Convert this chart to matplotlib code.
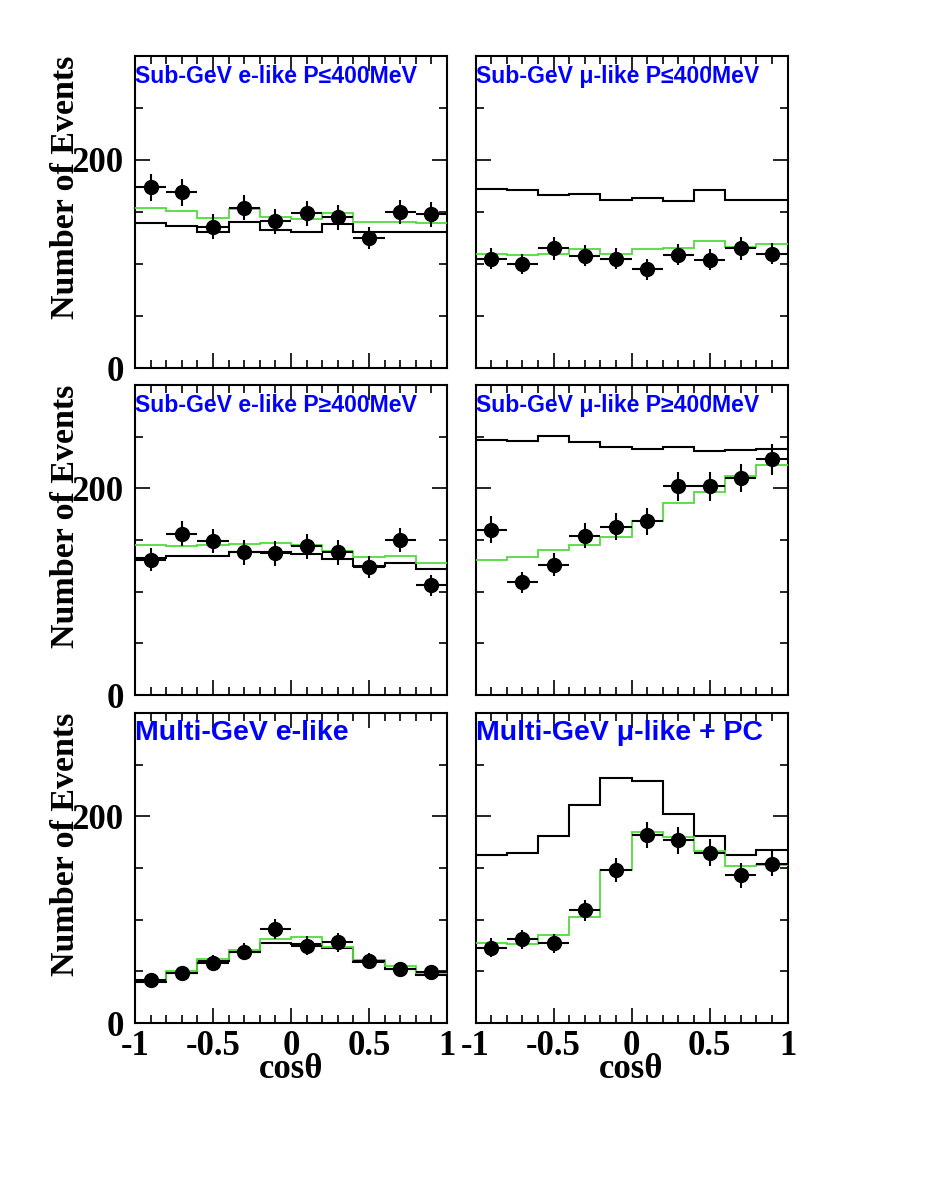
import matplotlib
matplotlib.use("Agg")
import matplotlib.pyplot as plt
from matplotlib.ticker import MultipleLocator, FormatStrFormatter

plt.rcParams['axes.unicode_minus'] = False

# binning in cos(theta)
BIN_EDGES = [-1.0, -0.8, -0.6, -0.4, -0.2, 0.0, 0.2, 0.4, 0.6, 0.8, 1.0]
BIN_CENTERS = [-0.9, -0.7, -0.5, -0.3, -0.1, 0.1, 0.3, 0.5, 0.7, 0.9]
BIN_HALF = [0.1] * 10

# sub-GeV e-like P<=400MeV
sge_lo_data = [174, 169, 136, 154, 141, 149, 145, 125, 150, 148]
sge_lo_err = [13, 13, 12, 12, 12, 12, 12, 11, 12, 12]
sge_lo_noosc = [139, 137, 131, 140, 133, 131, 138, 131, 131, 131]
sge_lo_osc = [154, 151, 144, 153, 145, 143, 149, 140, 140, 139]

# sub-GeV mu-like P<=400MeV
sgm_lo_data = [105, 100, 115, 108, 105, 95, 109, 104, 115, 110]
sgm_lo_err = [10, 10, 11, 10, 10, 10, 10, 10, 11, 10]
sgm_lo_noosc = [172, 171, 166, 167, 162, 163, 161, 171, 162, 162]
sgm_lo_osc = [110, 109, 110, 114, 110, 114, 115, 122, 116, 119]

# sub-GeV e-like P>=400MeV
sge_hi_data = [131, 156, 149, 138, 137, 144, 138, 124, 150, 106]
sge_hi_err = [11, 12, 12, 12, 12, 12, 12, 11, 12, 10]
sge_hi_noosc = [133, 135, 135, 138, 138, 136, 132, 125, 128, 122]
sge_hi_osc = [145, 144, 145, 146, 147, 145, 139, 134, 135, 128]

# sub-GeV mu-like P>=400MeV
sgm_hi_data = [160, 109, 126, 154, 163, 168, 202, 202, 210, 228]
sgm_hi_err = [13, 10, 11, 12, 13, 13, 14, 14, 14, 15]
sgm_hi_noosc = [247, 246, 251, 245, 240, 238, 240, 236, 237, 238]
sgm_hi_osc = [131, 134, 140, 145, 153, 168, 186, 196, 212, 223]

# multi-GeV e-like
mge_data = [42, 48, 58, 69, 91, 75, 78, 60, 52, 49]
mge_err = [6, 7, 8, 8, 10, 9, 9, 8, 7, 7]
mge_noosc = [40, 48, 60, 69, 77, 76, 73, 59, 52, 46]
mge_osc = [42, 50, 62, 71, 81, 83, 74, 61, 55, 48]

# multi-GeV mu-like + PC
mgm_data = [73, 81, 77, 109, 148, 182, 177, 165, 143, 154]
mgm_err = [9, 9, 9, 10, 12, 13, 13, 13, 12, 12]
mgm_noosc = [163, 165, 181, 211, 237, 234, 202, 181, 163, 167]
mgm_osc = [77, 76, 85, 103, 148, 185, 180, 166, 152, 153]

PANELS = [
    ("Sub-GeV e-like P\u2264400MeV", sge_lo_data, sge_lo_err, sge_lo_noosc, sge_lo_osc, 16.6),
    ("Sub-GeV \u03bc-like P\u2264400MeV", sgm_lo_data, sgm_lo_err, sgm_lo_noosc, sgm_lo_osc, 16.6),
    ("Sub-GeV e-like P\u2265400MeV", sge_hi_data, sge_hi_err, sge_hi_noosc, sge_hi_osc, 16.6),
    ("Sub-GeV \u03bc-like P\u2265400MeV", sgm_hi_data, sgm_hi_err, sgm_hi_noosc, sgm_hi_osc, 16.6),
    ("Multi-GeV e-like", mge_data, mge_err, mge_noosc, mge_osc, 20.5),
    ("Multi-GeV \u03bc-like + PC", mgm_data, mgm_err, mgm_noosc, mgm_osc, 20.5),
]

W, H = 926, 1199
COL_X = [135, 475.5]
COL_W = 312
ROW_Y = [(56, 368), (385, 695), (713, 1023)]

SERIF = "Liberation Serif"
SANS = "Liberation Sans"
GREEN = "#52dc3c"

fig = plt.figure(figsize=(W / 100, H / 100), dpi=100)

for i, (title, data, err, noosc, osc, title_size) in enumerate(PANELS):
    row, col = divmod(i, 2)
    top, bot = ROW_Y[row]
    ax = fig.add_axes([COL_X[col] / W, 1 - bot / H, COL_W / W, (bot - top) / H])

    ax.stairs(noosc, BIN_EDGES, baseline=None, color="black", lw=1.5, zorder=2)
    ax.stairs(osc, BIN_EDGES, baseline=None, color=GREEN, lw=1.3, zorder=3)
    ax.errorbar(BIN_CENTERS, data, xerr=BIN_HALF, yerr=err, fmt="o", color="black",
                ms=10, elinewidth=1.5, capsize=0, zorder=4)

    ax.set_xlim(-1, 1)
    ax.set_ylim(0, 300)

    # ROOT-like ticks on all four sides
    ax.xaxis.set_major_locator(MultipleLocator(0.5))
    ax.xaxis.set_minor_locator(MultipleLocator(0.1))
    ax.yaxis.set_major_locator(MultipleLocator(200))
    ax.yaxis.set_minor_locator(MultipleLocator(50))
    ax.tick_params(which="both", direction="in", top=True, right=True, width=1.2)
    ax.tick_params(which="major", length=11)
    ax.tick_params(axis="y", which="major", pad=8)
    ax.tick_params(axis="x", which="major", pad=5)
    ax.tick_params(which="minor", length=6)
    ax.xaxis.set_major_formatter(FormatStrFormatter("%g"))
    for sp in ax.spines.values():
        sp.set_linewidth(1.5)

    if col == 0:
        for lab in ax.get_yticklabels():
            lab.set_fontfamily(SERIF)
            lab.set_fontweight("bold")
            lab.set_fontsize(25)
        ax.text(-0.224, 1.0, "Number of Events", transform=ax.transAxes, rotation=90,
                ha="center", va="top", fontsize=24.5, fontweight="bold", family=SERIF)
    else:
        ax.tick_params(labelleft=False)

    if row == 2:
        for lab in ax.get_xticklabels():
            lab.set_fontfamily(SERIF)
            lab.set_fontweight("bold")
            lab.set_fontsize(25)
        ax.text(0.5, -0.177, "cos\u03b8", transform=ax.transAxes, ha="center",
                va="baseline", fontsize=25, fontweight="bold", family=SERIF)
    else:
        ax.tick_params(labelbottom=False)

    ax.text(0.0, 1 - 27 / (bot - top), title, transform=ax.transAxes, ha="left",
            va="baseline", fontsize=title_size, fontweight="bold", family=SANS,
            color="#0000ff", zorder=5)

fig.savefig("out.png", dpi=100)
